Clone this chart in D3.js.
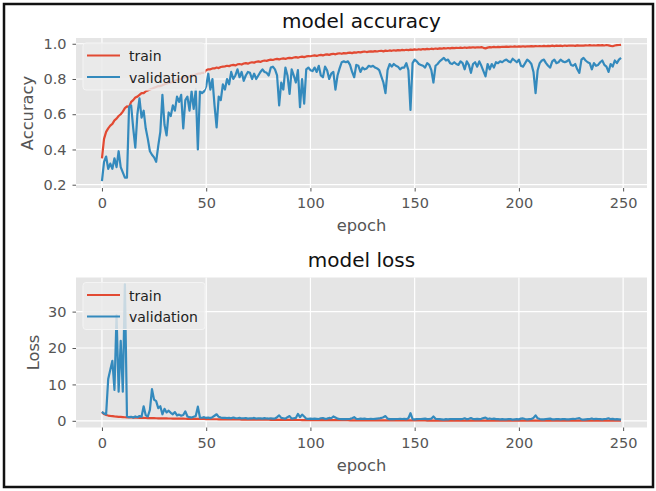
<!DOCTYPE html>
<html>
<head>
<meta charset="utf-8">
<script src="https://cdn.jsdelivr.net/npm/d3@7"></script>
<style>
  body { margin: 0; background: #fff; }
  svg text { font-family: "DejaVu Sans", sans-serif; }
</style>
</head>
<body>
<svg id="chart" width="656" height="491"></svg>
<script>
// epochs 0..249
const epochs = d3.range(250);
const epochTicks = [0, 50, 100, 150, 200, 250];
const accTicks = [0.2, 0.4, 0.6, 0.8, 1.0];
const lossTicks = [0, 10, 20, 30];
const seriesNames = ["train", "validation"];

const trainAcc = [
  0.35, 0.46, 0.50, 0.52, 0.535, 0.545, 0.565, 0.575, 0.59, 0.60,
  0.615, 0.635, 0.645, 0.64, 0.67, 0.68, 0.695, 0.70, 0.71, 0.72,
  0.72, 0.73, 0.735, 0.74, 0.745, 0.75, 0.755, 0.76, 0.76, 0.765,
  0.77, 0.775, 0.78, 0.78, 0.785, 0.79, 0.795, 0.80, 0.80, 0.805,
  0.81, 0.81, 0.815, 0.82, 0.82, 0.825, 0.83, 0.83, 0.835, 0.835,
  0.85, 0.855, 0.855, 0.86, 0.86, 0.865, 0.862, 0.868, 0.87, 0.872,
  0.875, 0.873, 0.878, 0.88, 0.877, 0.883, 0.885, 0.882, 0.888, 0.89,
  0.887, 0.892, 0.895, 0.893, 0.898, 0.90, 0.897, 0.902, 0.905, 0.903,
  0.907, 0.91, 0.908, 0.912, 0.914, 0.911, 0.915, 0.917, 0.914, 0.918,
  0.92, 0.918, 0.922, 0.924, 0.921, 0.925, 0.927, 0.924, 0.928, 0.93,
  0.929, 0.932, 0.934, 0.931, 0.935, 0.937, 0.934, 0.938, 0.94, 0.937,
  0.941, 0.943, 0.94, 0.944, 0.946, 0.943, 0.947, 0.945, 0.948, 0.95,
  0.947, 0.951, 0.95, 0.953, 0.951, 0.954, 0.956, 0.953, 0.955, 0.957,
  0.955, 0.958, 0.956, 0.959, 0.96, 0.957, 0.961, 0.959, 0.962, 0.96,
  0.963, 0.961, 0.964, 0.962, 0.965, 0.963, 0.966, 0.964, 0.967, 0.965,
  0.968, 0.966, 0.969, 0.967, 0.97, 0.968, 0.971, 0.969, 0.972, 0.97,
  0.973, 0.971, 0.974, 0.972, 0.975, 0.973, 0.976, 0.974, 0.977, 0.975,
  0.977, 0.976, 0.978, 0.976, 0.979, 0.977, 0.979, 0.978, 0.98, 0.978,
  0.98, 0.979, 0.981, 0.977, 0.974, 0.978, 0.981, 0.98, 0.982, 0.98,
  0.982, 0.981, 0.983, 0.982, 0.984, 0.982, 0.984, 0.983, 0.985, 0.983,
  0.985, 0.984, 0.986, 0.984, 0.986, 0.985, 0.987, 0.985, 0.987, 0.986,
  0.987, 0.986, 0.988, 0.986, 0.988, 0.987, 0.989, 0.987, 0.989, 0.988,
  0.989, 0.987, 0.99, 0.988, 0.99, 0.989, 0.99, 0.988, 0.991, 0.989,
  0.99, 0.989, 0.991, 0.99, 0.992, 0.99, 0.991, 0.99, 0.992, 0.991,
  0.992, 0.99, 0.993, 0.991, 0.988, 0.986, 0.99, 0.992, 0.993, 0.994
];

const valAcc = [
  0.22, 0.33, 0.36, 0.29, 0.32, 0.29, 0.35, 0.30, 0.39, 0.30,
  0.27, 0.24, 0.24, 0.64, 0.65, 0.52, 0.41, 0.60, 0.69, 0.58,
  0.62, 0.52, 0.46, 0.39, 0.37, 0.355, 0.33, 0.42, 0.50, 0.71,
  0.54, 0.48, 0.61, 0.59, 0.65, 0.62, 0.70, 0.67, 0.71, 0.52,
  0.68, 0.70, 0.62, 0.73, 0.63, 0.74, 0.40, 0.73, 0.72, 0.73,
  0.76, 0.83, 0.74, 0.80, 0.65, 0.525, 0.70, 0.68, 0.77, 0.74,
  0.80, 0.77, 0.84, 0.80, 0.82, 0.855, 0.81, 0.84, 0.79, 0.82,
  0.84, 0.835, 0.80, 0.83, 0.80, 0.82, 0.84, 0.855, 0.84, 0.835,
  0.82, 0.865, 0.87, 0.855, 0.82, 0.65, 0.78, 0.74, 0.865, 0.82,
  0.715, 0.855, 0.82, 0.78, 0.85, 0.64, 0.80, 0.66, 0.855, 0.865,
  0.85, 0.845, 0.865, 0.84, 0.875, 0.82, 0.81, 0.87, 0.85, 0.80,
  0.83, 0.84, 0.74, 0.82, 0.86, 0.895, 0.90, 0.895, 0.90, 0.88,
  0.84, 0.81, 0.88, 0.875, 0.84, 0.865, 0.855, 0.86, 0.875, 0.87,
  0.875, 0.865, 0.86, 0.85, 0.815, 0.78, 0.72, 0.85, 0.885, 0.87,
  0.885, 0.875, 0.87, 0.855, 0.865, 0.865, 0.89, 0.85, 0.625, 0.89,
  0.91, 0.90, 0.885, 0.88, 0.875, 0.865, 0.89, 0.88, 0.85, 0.78,
  0.875, 0.885, 0.90, 0.91, 0.92, 0.905, 0.91, 0.89, 0.885, 0.895,
  0.885, 0.88, 0.90, 0.89, 0.855, 0.90, 0.88, 0.835, 0.885, 0.895,
  0.87, 0.90, 0.875, 0.845, 0.815, 0.885, 0.855, 0.885, 0.865, 0.895,
  0.89, 0.90, 0.895, 0.905, 0.91, 0.90, 0.895, 0.915, 0.905, 0.895,
  0.91, 0.875, 0.87, 0.89, 0.91, 0.90, 0.885, 0.84, 0.72, 0.85,
  0.89, 0.905, 0.91, 0.89, 0.875, 0.865, 0.90, 0.91, 0.89, 0.895,
  0.91, 0.90, 0.895, 0.90, 0.91, 0.88, 0.875, 0.885, 0.855, 0.835,
  0.91, 0.92, 0.905, 0.895, 0.89, 0.855, 0.89, 0.875, 0.88, 0.895,
  0.905, 0.88, 0.87, 0.84, 0.885, 0.87, 0.905, 0.89, 0.91, 0.92
];

const trainLoss = [
  2.4, 1.85, 1.6, 1.45, 1.35, 1.27, 1.2, 1.15, 1.1, 1.06,
  1.02, 0.99, 0.96, 0.97, 0.92, 0.9, 0.87, 0.85, 0.83, 0.81,
  0.8, 0.78, 0.76, 0.76, 0.74, 0.72, 0.71, 0.7, 0.69, 0.68,
  0.66, 0.65, 0.64, 0.64, 0.62, 0.61, 0.6, 0.59, 0.59, 0.58,
  0.57, 0.56, 0.55, 0.55, 0.54, 0.53, 0.52, 0.52, 0.51, 0.5,
  0.46, 0.45, 0.45, 0.44, 0.43, 0.43, 0.42, 0.41, 0.41, 0.4,
  0.39, 0.39, 0.38, 0.38, 0.37, 0.36, 0.36, 0.35, 0.35, 0.34,
  0.34, 0.33, 0.33, 0.32, 0.32, 0.31, 0.31, 0.3, 0.3, 0.29,
  0.29, 0.28, 0.28, 0.27, 0.27, 0.27, 0.26, 0.26, 0.25, 0.25,
  0.25, 0.24, 0.24, 0.23, 0.23, 0.23, 0.22, 0.22, 0.22, 0.21,
  0.21, 0.21, 0.2, 0.2, 0.2, 0.19, 0.19, 0.19, 0.18, 0.18,
  0.18, 0.18, 0.17, 0.17, 0.17, 0.16, 0.16, 0.16, 0.16, 0.15,
  0.15, 0.15, 0.15, 0.14, 0.14, 0.14, 0.14, 0.13, 0.13, 0.13,
  0.13, 0.13, 0.12, 0.12, 0.12, 0.12, 0.12, 0.11, 0.11, 0.11,
  0.11, 0.11, 0.11, 0.1, 0.1, 0.1, 0.1, 0.1, 0.1, 0.09,
  0.09, 0.09, 0.09, 0.09, 0.09, 0.09, 0.08, 0.08, 0.08, 0.08,
  0.08, 0.08, 0.08, 0.08, 0.07, 0.07, 0.07, 0.07, 0.07, 0.07,
  0.07, 0.07, 0.07, 0.07, 0.06, 0.06, 0.06, 0.06, 0.06, 0.06,
  0.06, 0.06, 0.06, 0.07, 0.08, 0.07, 0.06, 0.06, 0.06, 0.06,
  0.06, 0.05, 0.05, 0.05, 0.05, 0.05, 0.05, 0.05, 0.05, 0.05,
  0.05, 0.05, 0.05, 0.05, 0.05, 0.05, 0.05, 0.05, 0.06, 0.05,
  0.05, 0.05, 0.04, 0.05, 0.05, 0.05, 0.04, 0.05, 0.05, 0.05,
  0.05, 0.04, 0.05, 0.05, 0.04, 0.05, 0.05, 0.04, 0.05, 0.05,
  0.04, 0.05, 0.04, 0.05, 0.04, 0.05, 0.04, 0.04, 0.05, 0.04,
  0.04, 0.05, 0.04, 0.04, 0.05, 0.06, 0.04, 0.04, 0.04, 0.04
];

const valLoss = [
  2.5, 2.0, 1.8, 11.5, 14.0, 16.5, 8.5, 29, 8, 22,
  8, 37.5, 1.2, 1.0, 1.1, 0.9, 1.2, 1.0, 1.3, 1.1,
  4.0, 1.5, 1.2, 3.0, 8.7, 5.8, 5.4, 3.5, 4.0, 1.8,
  3.3, 2.3, 2.8, 2.2, 1.8, 2.4, 1.5, 1.7, 1.4, 1.6,
  2.6, 1.2, 1.0, 0.9, 1.1, 1.3, 3.9, 0.9, 0.85, 1.0,
  0.8, 0.9, 0.75, 1.0, 1.4, 1.8, 1.1, 0.9, 0.8, 0.85,
  0.75, 0.8, 0.7, 0.9, 0.75, 0.7, 0.8, 0.65, 0.7, 0.75,
  0.6, 0.7, 0.65, 0.8, 0.6, 0.7, 0.65, 0.6, 0.75, 0.65,
  0.6, 0.7, 0.6, 0.65, 1.0, 1.5, 0.8, 0.7, 0.6, 1.0,
  1.3, 0.6, 0.7, 0.8, 1.9, 1.0, 1.7, 1.2, 0.6, 0.55,
  0.6, 0.55, 0.6, 0.55, 0.5, 0.7, 0.75, 0.55, 0.6, 0.8,
  0.7, 1.2, 0.9, 0.6, 0.5, 0.45, 0.5, 0.45, 0.5, 0.55,
  0.7, 1.0, 0.55, 0.5, 0.6, 0.55, 0.6, 0.5, 0.5, 0.55,
  0.5, 0.55, 0.6, 0.65, 0.8, 1.0, 1.3, 0.6, 0.45, 0.5,
  0.45, 0.5, 0.5, 0.55, 0.5, 0.55, 0.45, 0.7, 2.1, 0.45,
  0.4, 0.45, 0.5, 0.5, 0.55, 0.6, 0.45, 0.5, 0.6, 1.2,
  0.55, 0.5, 0.45, 0.4, 0.35, 0.45, 0.4, 0.5, 0.5, 0.45,
  0.5, 0.5, 0.45, 0.5, 0.7, 0.45, 0.55, 0.75, 0.5, 0.45,
  0.55, 0.45, 0.55, 0.75, 0.9, 0.5, 0.65, 0.5, 0.6, 0.45,
  0.45, 0.4, 0.45, 0.4, 0.4, 0.45, 0.45, 0.35, 0.4, 0.45,
  0.4, 0.6, 0.65, 0.5, 0.4, 0.45, 0.5, 0.8, 1.5, 0.7,
  0.5, 0.4, 0.4, 0.5, 0.55, 0.6, 0.4, 0.4, 0.5, 0.45,
  0.4, 0.45, 0.45, 0.4, 0.4, 0.5, 0.55, 0.5, 0.65, 0.75,
  0.4, 0.35, 0.4, 0.45, 0.5, 0.65, 0.45, 0.55, 0.5, 0.45,
  0.4, 0.5, 0.55, 0.7, 0.45, 0.55, 0.4, 0.45, 0.4, 0.35
];

const colors = { train: "#E24A33", validation: "#348ABD" };
const svg = d3.select("#chart");

// outer frame
svg.append("rect")
  .attr("x", 4).attr("y", 4).attr("width", 649).attr("height", 483)
  .attr("fill", "none").attr("stroke", "#111").attr("stroke-width", 2.5);

function drawPanel(top, title, yLabel, yLabelX, yTicks, yFmt, trainVals, valVals, id) {
  const left = 76, right = 647, bottom = top + 150;
  const n = epochs.length - 1;
  const x = d3.scaleLinear().domain([-0.05 * n, n * 1.05]).range([left, right]);
  const all = trainVals.concat(valVals);
  const lo = d3.min(all), hi = d3.max(all), m = (hi - lo) * 0.05;
  const y = d3.scaleLinear().domain([lo - m, hi + m]).range([bottom, top]);

  const g = svg.append("g");
  g.append("rect")
    .attr("x", left).attr("y", top).attr("width", right - left).attr("height", bottom - top)
    .attr("fill", "#E5E5E5");

  g.selectAll(".xg").data(epochTicks).enter().append("line")
    .attr("x1", d => x(d)).attr("x2", d => x(d)).attr("y1", top).attr("y2", bottom)
    .attr("stroke", "#fff").attr("stroke-width", 1.2);
  g.selectAll(".yg").data(yTicks).enter().append("line")
    .attr("x1", left).attr("x2", right).attr("y1", d => y(d)).attr("y2", d => y(d))
    .attr("stroke", "#fff").attr("stroke-width", 1.2);

  const xAxis = g.append("g").attr("transform", "translate(0," + bottom + ")")
    .call(d3.axisBottom(x).tickValues(epochTicks).tickSize(3.5).tickPadding(6.7));
  const yAxis = g.append("g").attr("transform", "translate(" + left + ",0)")
    .call(d3.axisLeft(y).tickValues(yTicks).tickFormat(yFmt).tickSize(3.5).tickPadding(6));
  [xAxis, yAxis].forEach(a => {
    a.select(".domain").remove();
    a.selectAll("line").attr("stroke", "#555");
    a.selectAll("text").attr("fill", "#555").style("font-size", "14.5px")
      .style("font-family", "DejaVu Sans, sans-serif");
  });

  g.append("clipPath").attr("id", id).append("rect")
    .attr("x", left).attr("y", top).attr("width", right - left).attr("height", bottom - top);

  const line = d3.line().x((d, i) => x(epochs[i])).y(d => y(d));
  [[trainVals, "train"], [valVals, "validation"]].forEach(([vals, name]) => {
    g.append("path").datum(vals)
      .attr("clip-path", "url(#" + id + ")")
      .attr("d", line)
      .attr("fill", "none")
      .attr("stroke", colors[name])
      .attr("stroke-width", 2.2)
      .attr("stroke-linejoin", "round");
  });

  // legend
  const lg = g.append("g").attr("transform", "translate(83," + (top + 5) + ")");
  lg.append("rect").attr("width", 122).attr("height", 47).attr("rx", 3)
    .attr("fill", "#EAEAEA").attr("fill-opacity", 0.82)
    .attr("stroke", "#F4F4F4").attr("stroke-width", 1);
  seriesNames.forEach((name, i) => {
    const ly = 12.5 + i * 21.5;
    lg.append("line").attr("x1", 4).attr("x2", 37).attr("y1", ly).attr("y2", ly)
      .attr("stroke", colors[name]).attr("stroke-width", 2.2);
    lg.append("text").attr("x", 46).attr("y", ly + 5.5)
      .attr("fill", "#222").style("font-size", "14px").text(name);
  });

  g.append("text").attr("x", (left + right) / 2).attr("y", top - 10.5)
    .attr("text-anchor", "middle").attr("fill", "#111").style("font-size", "20px").text(title);
  g.append("text").attr("x", (left + right) / 2).attr("y", bottom + 43)
    .attr("text-anchor", "middle").attr("fill", "#555").style("font-size", "16.3px").text("epoch");
  g.append("text")
    .attr("transform", "translate(" + yLabelX + "," + ((top + bottom) / 2) + ") rotate(-90)")
    .attr("text-anchor", "middle").attr("fill", "#555").style("font-size", "16.3px").text(yLabel);
}

drawPanel(38, "model accuracy", "Accuracy", 33, accTicks, d3.format(".1f"), trainAcc, valAcc, "clipAcc");
drawPanel(277.5, "model loss", "Loss", 39, lossTicks, d3.format("d"), trainLoss, valLoss, "clipLoss");
</script>
</body>
</html>
